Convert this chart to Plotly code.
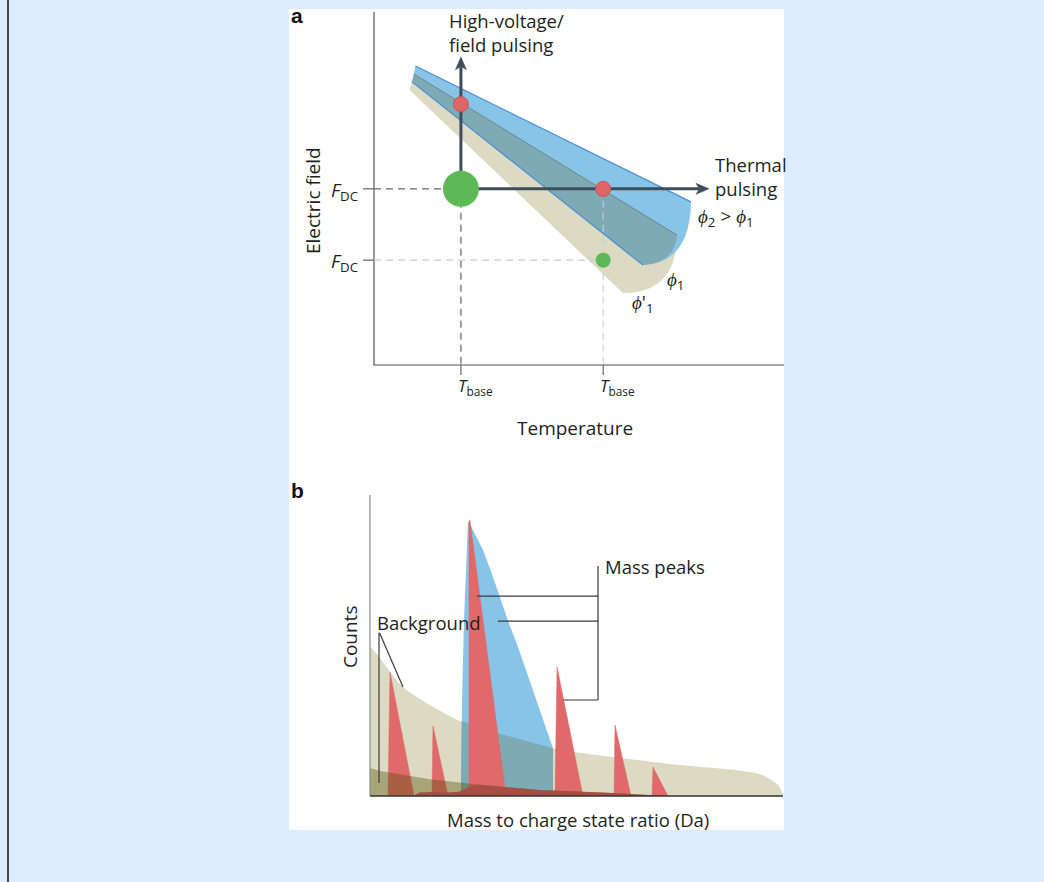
import plotly.graph_objects as go

W, H = 1044, 882
PAGE_BG = "#dcecfc"
FONT = "Open Sans"
TXT = "#231f20"

# ---------------- Panel a data (arbitrary units: temperature T, electric field F) ----------------
T_BASE = [2.12, 5.59]
F_DC = [4.99, 2.97]
FIELD_PULSE_TOP = 8.73
THERMAL_PULSE_END = 8.17
RED_T = [2.12, 5.59]
RED_F = [7.39, 4.99]
GREEN_T = [2.12, 5.59]
GREEN_F = [4.99, 2.97]

BLUE_TOP_T = [1.012, 7.73]; BLUE_TOP_F = [8.47, 4.62]
BLUE_BOT_T = [0.927, 6.56]; BLUE_BOT_F = [8.02, 2.83]
BEIGE_TOP_T = [0.976, 7.39]; BEIGE_TOP_F = [8.24, 3.68]
BEIGE_BOT_T = [0.866, 6.07]; BEIGE_BOT_F = [7.79, 2.04]
BLUE_ARC_CTRL = [7.71, 2.89]
BEIGE_ARC_CTRL = [7.39, 2.04]
OVERLAP_ARC_CTRL = [7.34, 2.89]

# ---------------- Panel b data (m/z in arbitrary units 0-100, counts 0-100) ----------------
BG_M = [0, 2.42, 7.99, 15.74, 21.79, 30.75, 41.16, 44.31, 49.64, 60.53, 75.06, 88.38, 94.92, 98.79, 100.0]
BG_C = [49.8, 45.8, 36.2, 29.2, 24.9, 20.9, 16.9, 15.9, 14.6, 12.6, 10.3, 8.6, 7.0, 3.7, 0.3]

BLUE_M = [22.03, 22.28, 22.76, 23.73, 24.94, 27.36, 29.78, 31.48, 33.17, 35.84, 39.95, 44.31, 44.31]
BLUE_C = [0, 31.9, 58.5, 91.4, 88.4, 81.7, 72.8, 66.1, 59.1, 49.5, 32.9, 15.9, 0]

TEAL_M = [22.03, 22.2, 30.75, 41.16, 44.31, 44.31]
TEAL_C = [0, 24.8, 20.9, 16.9, 15.9, 0]

PEAKS_M = [
    [4.36, 4.84, 10.65],
    [15.01, 15.25, 18.89],
    [23.97, 23.97, 24.2, 32.93],
    [44.79, 45.28, 51.57],
    [59.08, 59.32, 63.2],
    [68.28, 68.52, 72.15],
]
PEAKS_C = [
    [0, 41.2, 0],
    [0, 23.3, 0],
    [0, 91.0, 91.7, 0],
    [0, 42.9, 0],
    [0, 23.6, 0],
    [0, 9.6, 0],
]

BAND_M = [0, 2.42, 14.53, 26.63, 41.16, 58.84, 71.91, 71.91, 0]
BAND_C = [9.3, 8.3, 5.6, 3.7, 2.0, 1.0, 0, 0, 0]

STRIP_M = [10.4, 12.0, 15.0, 18.9, 21.5, 23.97, 26.63, 41.16, 58.84, 71.91, 71.91, 10.4]
STRIP_C = [0, 1.2, 1.3, 1.2, 1.4, 3.0, 3.7, 2.0, 1.0, 0, 0, 0]

PEAK_LEADER_M = [25.91, 30.99, 46.73]
PEAK_LEADER_C = [66.4, 58.1, 31.9]
PEAK_LEADER_JOIN_M = 55.21
PEAK_LEADER_TOP_C = 76.4
BG_LEADER_TOP = (2.3, 54.2)
BG_LEADER_ENDS_M = [2.18, 7.99]
BG_LEADER_ENDS_C = [4.3, 36.2]

# ---------------- pixel layout ----------------
PANEL = dict(left=289, right=784, top=9, bottom=830)
A_DOM_Y = (9, 455)
B_DOM_Y = (465, 830)


def rng(p0, v0, p1, v1, d0, d1):
    s = (v1 - v0) / (p1 - p0)
    return [v0 + (d0 - p0) * s, v0 + (d1 - p0) * s]


ax_a_x = rng(374, 0, 784, 10, PANEL["left"], PANEL["right"])
ax_a_y = rng(365, 0, 12, 10, A_DOM_Y[1], A_DOM_Y[0])
ax_b_x = rng(370, 0, 783, 100, PANEL["left"], PANEL["right"])
ax_b_y = rng(796, 0, 495, 100, B_DOM_Y[1], B_DOM_Y[0])
KX_A, KY_A = 41.0, 35.3  # px per unit in panel a

fig = go.Figure()

A = dict(xaxis="x", yaxis="y", showlegend=False, hoverinfo="skip")
B = dict(xaxis="x2", yaxis="y2", showlegend=False, hoverinfo="skip")
DASH = "7px,5px"

# ---- panel a: axis lines ----
fig.add_trace(go.Scatter(x=[0, 0, 10], y=[10, 0, 0], mode="lines",
                         line=dict(color="#555555", width=1.2), **A))

# ---- panel a: band lines ----
fig.add_trace(go.Scatter(x=BLUE_TOP_T, y=BLUE_TOP_F, mode="lines", line=dict(color="#4a8fd2", width=1.2), **A))
fig.add_trace(go.Scatter(x=BLUE_BOT_T, y=BLUE_BOT_F, mode="lines", line=dict(color="#4a8fd2", width=1.2), **A))
fig.add_trace(go.Scatter(x=BEIGE_TOP_T, y=BEIGE_TOP_F, mode="lines", line=dict(color="#6a8882", width=1.0), **A))

# ---- panel a: dashed guides and ticks ----
fig.add_trace(go.Scatter(x=[0, T_BASE[0]], y=[F_DC[0], F_DC[0]], mode="lines",
                         line=dict(color="#666666", width=1.1, dash=DASH), **A))
fig.add_trace(go.Scatter(x=[T_BASE[0], T_BASE[0]], y=[F_DC[0], 0], mode="lines",
                         line=dict(color="#555555", width=1.1, dash=DASH), **A))
fig.add_trace(go.Scatter(x=[0, T_BASE[1]], y=[F_DC[1], F_DC[1]], mode="lines",
                         line=dict(color="#c6ced6", width=1.1, dash=DASH), **A))
fig.add_trace(go.Scatter(x=[T_BASE[1], T_BASE[1]], y=[RED_F[1], 0], mode="lines",
                         line=dict(color="#c6ced6", width=1.1, dash=DASH), **A))
tick_len_x = 11 / KX_A
tick_len_y = 10 / KY_A
for f in F_DC:
    fig.add_trace(go.Scatter(x=[-tick_len_x, 0], y=[f, f], mode="lines",
                             line=dict(color="#555555", width=1.1), **A))
for t in T_BASE:
    fig.add_trace(go.Scatter(x=[t, t], y=[0, -tick_len_y], mode="lines",
                             line=dict(color="#555555", width=1.1), **A))

# ---- panel a: pulsing arrows ----
ARROW = "#3d4d5a"
head_len, head_half, notch = 13, 5.5, 3.5
o_t, o_f = T_BASE[0], F_DC[0]
fig.add_trace(go.Scatter(x=[o_t, o_t], y=[o_f, FIELD_PULSE_TOP - (head_len - notch) / KY_A], mode="lines",
                         line=dict(color=ARROW, width=3), **A))
fig.add_trace(go.Scatter(x=[o_t, THERMAL_PULSE_END - (head_len - notch) / KX_A], y=[o_f, o_f], mode="lines",
                         line=dict(color=ARROW, width=3), **A))
fig.add_trace(go.Scatter(
    x=[o_t, o_t - head_half / KX_A, o_t, o_t + head_half / KX_A, o_t],
    y=[FIELD_PULSE_TOP, FIELD_PULSE_TOP - head_len / KY_A, FIELD_PULSE_TOP - (head_len - notch) / KY_A,
       FIELD_PULSE_TOP - head_len / KY_A, FIELD_PULSE_TOP],
    mode="lines", fill="toself", fillcolor=ARROW, line=dict(color=ARROW, width=0.5), **A))
fig.add_trace(go.Scatter(
    x=[THERMAL_PULSE_END, THERMAL_PULSE_END - head_len / KX_A, THERMAL_PULSE_END - (head_len - notch) / KX_A,
       THERMAL_PULSE_END - head_len / KX_A, THERMAL_PULSE_END],
    y=[o_f, o_f + head_half / KY_A, o_f, o_f - head_half / KY_A, o_f],
    mode="lines", fill="toself", fillcolor=ARROW, line=dict(color=ARROW, width=0.5), **A))

# ---- panel a: state points ----
fig.add_trace(go.Scatter(x=GREEN_T, y=GREEN_F, mode="markers",
                         marker=dict(color="#5cb955", size=[36, 15], opacity=1, line=dict(width=0)), **A))
fig.add_trace(go.Scatter(x=RED_T, y=RED_F, mode="markers",
                         marker=dict(color="#e06666", size=15, opacity=1, line=dict(color="#cc5555", width=1)), **A))

# ---- panel b: fills ----
fig.add_trace(go.Scatter(x=BG_M, y=BG_C, mode="lines", fill="tozeroy", fillcolor="#dddac3",
                         line=dict(width=0, color="#dddac3", shape="spline", smoothing=0.8), **B))
fig.add_trace(go.Scatter(x=BLUE_M, y=BLUE_C, mode="lines", fill="toself", fillcolor="#88c4e8",
                         line=dict(width=0, color="#88c4e8"), **B))
fig.add_trace(go.Scatter(x=TEAL_M, y=TEAL_C, mode="lines", fill="toself", fillcolor="#7eaab5",
                         line=dict(width=0, color="#7eaab5"), **B))
for pm, pc in zip(PEAKS_M, PEAKS_C):
    fig.add_trace(go.Scatter(x=pm, y=pc, mode="lines", fill="toself", fillcolor="#df6a69",
                             line=dict(width=0.5, color="#df6a69"), **B))
fig.add_trace(go.Scatter(x=BAND_M, y=BAND_C, mode="lines", fill="toself", fillcolor="rgba(90,80,10,0.40)",
                         line=dict(width=0, color="rgba(0,0,0,0)"), **B))
fig.add_trace(go.Scatter(x=STRIP_M, y=STRIP_C, mode="lines", fill="toself", fillcolor="#a64e43",
                         line=dict(width=0, color="#a64e43"), **B))

# ---- panel b: axes ----
fig.add_trace(go.Scatter(x=[0, 0], y=[100, 0], mode="lines", line=dict(color="#8a8a8a", width=1.2), **B))
fig.add_trace(go.Scatter(x=[0, 100], y=[0, 0], mode="lines", line=dict(color="#333333", width=1.6), **B))

# ---- panel b: leader lines ----
LEAD = dict(color="#3a3a3a", width=1.2)
fig.add_trace(go.Scatter(x=[PEAK_LEADER_JOIN_M, PEAK_LEADER_JOIN_M], y=[PEAK_LEADER_TOP_C, PEAK_LEADER_C[2]],
                         mode="lines", line=LEAD, **B))
for m0, c0 in zip(PEAK_LEADER_M, PEAK_LEADER_C):
    fig.add_trace(go.Scatter(x=[m0, PEAK_LEADER_JOIN_M], y=[c0, c0], mode="lines", line=LEAD, **B))
for m1, c1 in zip(BG_LEADER_ENDS_M, BG_LEADER_ENDS_C):
    fig.add_trace(go.Scatter(x=[BG_LEADER_TOP[0] if m1 > 3 else m1, m1], y=[BG_LEADER_TOP[1], c1],
                             mode="lines", line=LEAD, **B))

# ---- shapes: page, panel, bands ----
shapes = [
    dict(type="rect", xref="paper", yref="paper",
         x0=PANEL["left"] / W, x1=PANEL["right"] / W, y0=1 - PANEL["bottom"] / H, y1=1 - PANEL["top"] / H,
         fillcolor="white", line=dict(width=0), layer="below"),
    dict(type="line", xref="paper", yref="paper", x0=8 / W, x1=8 / W, y0=0, y1=1,
         line=dict(color="#111111", width=1.5), layer="below"),
]


def band_path(t0, f0, t1, f1, ctrl, t2, f2, t3, f3):
    return (f"M {t0},{f0} L {t1},{f1} Q {ctrl[0]},{ctrl[1]} {t2},{f2} "
            f"L {t3},{f3} Z")


shapes.append(dict(type="path", xref="x", yref="y", layer="below", fillcolor="#dddac3", line=dict(width=0),
                   path=band_path(BEIGE_TOP_T[0], BEIGE_TOP_F[0], BEIGE_TOP_T[1], BEIGE_TOP_F[1], BEIGE_ARC_CTRL,
                                  BEIGE_BOT_T[1], BEIGE_BOT_F[1], BEIGE_BOT_T[0], BEIGE_BOT_F[0])))
shapes.append(dict(type="path", xref="x", yref="y", layer="below", fillcolor="#88c4e8", line=dict(width=0),
                   path=band_path(BLUE_TOP_T[0], BLUE_TOP_F[0], BLUE_TOP_T[1], BLUE_TOP_F[1], BLUE_ARC_CTRL,
                                  BLUE_BOT_T[1], BLUE_BOT_F[1], BLUE_BOT_T[0], BLUE_BOT_F[0])))
shapes.append(dict(type="path", xref="x", yref="y", layer="below", fillcolor="#7eaab5", line=dict(width=0),
                   path=band_path(BEIGE_TOP_T[0], BEIGE_TOP_F[0], BEIGE_TOP_T[1], BEIGE_TOP_F[1], OVERLAP_ARC_CTRL,
                                  BLUE_BOT_T[1], BLUE_BOT_F[1], BLUE_BOT_T[0], BLUE_BOT_F[0])))

# ---- annotations ----
def ann(text, x, y, ref="a", xanchor="left", yanchor="middle", size=18, angle=0, align="left"):
    xr, yr = ("x", "y") if ref == "a" else ("x2", "y2")
    return dict(text=text, x=x, y=y, xref=xr, yref=yr, xanchor=xanchor, yanchor=yanchor,
                showarrow=False, textangle=angle, align=align,
                font=dict(family=FONT, size=size, color=TXT))


annotations = [
    dict(text="<b>a</b>", x=PANEL["left"] / W, y=1 - 15 / H, xref="paper", yref="paper",
         xanchor="left", yanchor="middle", showarrow=False,
         font=dict(family="Liberation Sans", size=21, color="#111111")),
    dict(text="<b>b</b>", x=PANEL["left"] / W, y=1 - 490 / H, xref="paper", yref="paper",
         xanchor="left", yanchor="middle", showarrow=False,
         font=dict(family="Liberation Sans", size=21, color="#111111")),
    ann("High-voltage/<br>field pulsing", 1.78, 9.42, size=18.5),
    ann("Thermal<br>pulsing", 8.27, 5.35, size=18.5),
    ann("<i>ϕ</i><sub>2</sub> > <i>ϕ</i><sub>1</sub>", 7.85, 4.2, size=19),
    ann("<i>ϕ</i><sub>1</sub>", 7.10, 2.4, size=19),
    ann("<i>ϕ</i>'<sub>1</sub>", 6.24, 1.77, size=19),
    ann("<i>F</i><sub>DC</sub>", -0.33, F_DC[0] - 0.05, xanchor="right", size=19),
    ann("<i>F</i><sub>DC</sub>", -0.33, F_DC[1] - 0.05, xanchor="right", size=19),
    ann("<i>T</i><sub>base</sub>", T_BASE[0] - 0.12, -0.62, size=17),
    ann("<i>T</i><sub>base</sub>", T_BASE[1] - 0.12, -0.62, size=17),
    ann("Temperature", 4.90, -1.78, xanchor="center", size=19),
    ann("Electric field", -1.49, 4.67, xanchor="center", angle=-90, size=19),
    ann("Counts", -4.84, 52.8, ref="b", xanchor="center", angle=-90, size=19),
    ann("Mass to charge state ratio (Da)", 50.36, -7.97, ref="b", xanchor="center", size=18.5),
    ann("Mass peaks", 56.42, 76.4, ref="b", size=18.5),
    ann("Background", 1.21, 57.5, ref="b", size=18.5),
]

ax_common = dict(visible=False, showgrid=False, zeroline=False, fixedrange=True)
fig.update_layout(
    width=W, height=H, margin=dict(l=0, r=0, t=0, b=0),
    paper_bgcolor=PAGE_BG, plot_bgcolor="rgba(0,0,0,0)",
    xaxis=dict(domain=[PANEL["left"] / W, PANEL["right"] / W], range=ax_a_x, anchor="y", **ax_common),
    yaxis=dict(domain=[1 - A_DOM_Y[1] / H, 1 - A_DOM_Y[0] / H], range=ax_a_y, anchor="x", **ax_common),
    xaxis2=dict(domain=[PANEL["left"] / W, PANEL["right"] / W], range=ax_b_x, anchor="y2", **ax_common),
    yaxis2=dict(domain=[1 - B_DOM_Y[1] / H, 1 - B_DOM_Y[0] / H], range=ax_b_y, anchor="x2", **ax_common),
    shapes=shapes, annotations=annotations, showlegend=False,
)

fig.write_html(
    "out.html",
    config={"displayModeBar": False},
    post_script="document.body.style.margin='0';document.body.style.background='%s';" % PAGE_BG,
)
